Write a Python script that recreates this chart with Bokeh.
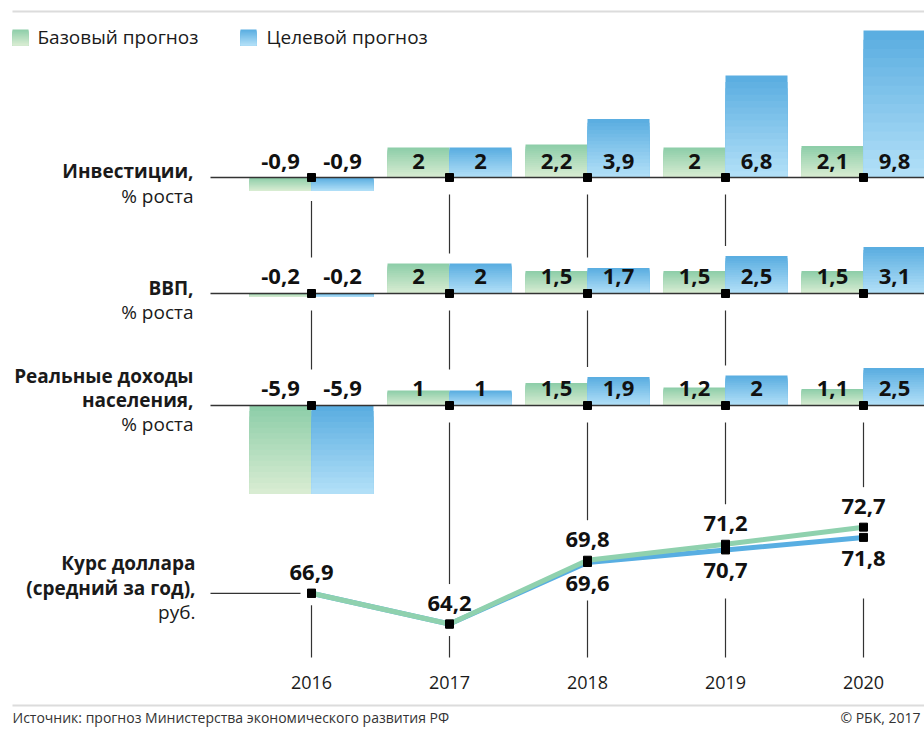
import numpy as np
from bokeh.plotting import figure
from bokeh.models import Range1d, ColumnDataSource
from bokeh.core.properties import value
from bokeh.embed import file_html
from bokeh.resources import INLINE

# ---------------- data ----------------
years = [2016, 2017, 2018, 2019, 2020]
year_labels = ["2016", "2017", "2018", "2019", "2020"]
series_names = ["Базовый прогноз", "Целевой прогноз"]

inv_base = [-0.9, 2, 2.2, 2, 2.1]
inv_target = [-0.9, 2, 3.9, 6.8, 9.8]
gdp_base = [-0.2, 2, 1.5, 1.5, 1.5]
gdp_target = [-0.2, 2, 1.7, 2.5, 3.1]
inc_base = [-5.9, 1, 1.5, 1.2, 1.1]
inc_target = [-5.9, 1, 1.9, 2, 2.5]
usd_base = [66.9, 64.2, 69.8, 71.2, 72.7]
usd_target = [66.9, 64.2, 69.6, 70.7, 71.8]

inv_title = ["Инвестиции,", "% роста"]
gdp_title = ["ВВП,", "% роста"]
inc_title = ["Реальные доходы", "населения,", "% роста"]
usd_title = ["Курс доллара", "(средний за год),", "руб."]
source_text = "Источник: прогноз Министерства экономического развития РФ"
credit_text = "© РБК, 2017"

# ---------------- layout / style ----------------
W, H = 924, 729
X0_PX, STEP_PX = 311, 138
BAR_PX = 62
PCT_PX = 15.0          # pixels per percentage point
USD_PX = 11.4          # pixels per rouble
USD_REF_V, USD_REF_PX = 69.6, 562.0
FONT = "Open Sans"
TXT = "#1a1a1a"
LINE = "#333333"
G_TOP, G_BOT = (140, 205, 168), (218, 237, 211)
B_TOP, B_BOT = (88, 172, 224), (180, 225, 248)
G_LINE, B_LINE = "#8fd1ae", "#58aee2"
NUM_SIZE = "22px"
TITLE_SIZE = "19px"


def px2x(px):
    return years[0] + (px - X0_PX) / STEP_PX


def mix(c0, c1, t):
    return "#%02x%02x%02x" % tuple(int(round(a + (b - a) * t)) for a, b in zip(c0, c1))


def fmt(v):
    return ("%g" % v).replace(".", ",")


BAR_W = BAR_PX / STEP_PX

p = figure(width=W, height=H, output_backend="svg", toolbar_location=None,
           x_range=Range1d(px2x(0), px2x(W)), y_range=Range1d(H, 0),
           x_axis_location=None, y_axis_location=None,
           min_border=0, min_border_left=0, min_border_right=0,
           min_border_top=0, min_border_bottom=0)
p.outline_line_color = None
p.grid.visible = False
p.background_fill_color = "white"
p.border_fill_color = "white"

rows = [
    ("inv", 177, inv_base, inv_target, inv_title, [170, 195], -16),
    ("gdp", 293, gdp_base, gdp_target, gdp_title, [287, 311], -17),
    ("inc", 405, inc_base, inc_target, inc_title, [375, 399, 423], -17),
]

for name, b, *_ in rows:
    p.extra_y_ranges[name] = Range1d(start=(b - H) / PCT_PX, end=b / PCT_PX)
p.extra_y_ranges["usd"] = Range1d(start=USD_REF_V - (H - USD_REF_PX) / USD_PX,
                                  end=USD_REF_V + USD_REF_PX / USD_PX)


def usd_px(v):
    return USD_REF_PX - (v - USD_REF_V) * USD_PX


# frame lines top & bottom
p.segment(x0=[px2x(12), px2x(12)], y0=[11, 705], x1=[px2x(W), px2x(W)], y1=[11, 705],
          line_color="#dcdcdc", line_width=2)

# legend
N = 16
for lx, tx, c0, c1, label in [(12, 37, G_TOP, G_BOT, series_names[0]),
                              (240, 266, B_TOP, B_BOT, series_names[1])]:
    top, bot = 29, 45
    L, R, T, B, C = [], [], [], [], []
    for k in range(N):
        L.append(px2x(lx)); R.append(px2x(lx + 16))
        T.append(top + (bot - top) * k / N); B.append(bot)
        C.append(mix(c0, c1, (k + 0.5) / N))
    p.quad(left=L, right=R, top=T, bottom=B, fill_color=C, line_color=None)
    p.text(x=[px2x(tx)], y=[36], text=[label], text_font=value(FONT),
           text_font_size="19px", text_color=TXT, text_baseline="middle", text_align="left")

# bars
for name, b, base, target, title, title_ys, lab_off in rows:
    L, R, T, B, C = [], [], [], [], []
    for s, (vals, c0, c1) in enumerate([(base, G_TOP, G_BOT), (target, B_TOP, B_BOT)]):
        for yr, v in zip(years, vals):
            left = yr - BAR_W if s == 0 else yr
            right = left + BAR_W
            top, bot = max(v, 0), min(v, 0)
            for k in range(N):
                L.append(left); R.append(right)
                T.append(top - (top - bot) * k / N); B.append(bot)
                C.append(mix(c0, c1, (k + 0.5) / N))
    p.quad(left=L, right=R, top=T, bottom=B, fill_color=C, line_color=None,
           y_range_name=name)
    # baseline
    p.segment(x0=[px2x(210)], y0=[0], x1=[px2x(W)], y1=[0], line_color=LINE,
              line_width=1.5, y_range_name=name)
    # value labels
    lx = [yr - BAR_W / 2 for yr in years] + [yr + BAR_W / 2 for yr in years]
    lt = [fmt(v) for v in base] + [fmt(v) for v in target]
    p.text(x=lx, y=[0] * len(lx), text=lt, y_offset=lab_off, text_font=value(FONT),
           text_font_size=NUM_SIZE, text_font_style="bold", text_color="#111111",
           text_align="center", text_baseline="middle", y_range_name=name)
    # markers
    p.scatter(x=years, y=[0] * len(years), marker="square", size=8, color="black",
              y_range_name=name)
    # titles
    for i, (t, ty) in enumerate(zip(title, title_ys)):
        p.text(x=[px2x(193)], y=[ty], text=[t], text_font=value(FONT),
               text_font_size=TITLE_SIZE, text_color=TXT, text_align="right",
               text_baseline="middle",
               text_font_style="bold" if i < len(title) - 1 else "normal")

# connectors between rows
X0s, Y0s, X1s, Y1s = [], [], [], []
for r in range(len(rows)):
    _, b, base, target, *_ = rows[r]
    for i, yr in enumerate(years):
        lo = min(base[i], target[i], 0)
        start = max(b + 17, b - lo * PCT_PX + 10)
        if r + 1 < len(rows):
            _, b2, base2, target2, *_ = rows[r + 1]
            hi = max(base2[i], target2[i], 0)
            end = min(b2 - hi * PCT_PX, b2 - 26) - 10
        else:
            end = usd_px(usd_base[i]) - 40
        if end - start > 50:
            X0s.append(yr); X1s.append(yr); Y0s.append(start); Y1s.append(end)
# below the line chart
for i, yr in enumerate(years):
    labeled = usd_base[i] != usd_target[i]
    lowpx = max(usd_px(usd_base[i]), usd_px(usd_target[i]))
    start = max(lowpx + (38 if labeled else 12), 598)
    X0s.append(yr); X1s.append(yr); Y0s.append(start); Y1s.append(657)
p.segment(x0=X0s, y0=Y0s, x1=X1s, y1=Y1s, line_color=LINE, line_width=1.2)

# usd lines
p.segment(x0=[px2x(210)], y0=[usd_base[0]], x1=[px2x(300)], y1=[usd_base[0]],
          line_color=LINE, line_width=1.2, y_range_name="usd")
p.line(years, usd_target, line_color=B_LINE, line_width=5, y_range_name="usd")
p.line(years, usd_base, line_color=G_LINE, line_width=5, y_range_name="usd")
p.scatter(x=years + years, y=usd_base + usd_target, marker="square", size=8,
          color="black", y_range_name="usd")
p.text(x=years, y=usd_base, text=[fmt(v) for v in usd_base], y_offset=-21,
       text_font=value(FONT), text_font_size=NUM_SIZE, text_font_style="bold",
       text_color="#111111", text_align="center", text_baseline="middle",
       y_range_name="usd")
tx = [yr for yr, a, b in zip(years, usd_base, usd_target) if a != b]
ty = [b for a, b in zip(usd_base, usd_target) if a != b]
p.text(x=tx, y=ty, text=[fmt(v) for v in ty], y_offset=21,
       text_font=value(FONT), text_font_size=NUM_SIZE, text_font_style="bold",
       text_color="#111111", text_align="center", text_baseline="middle",
       y_range_name="usd")
for i, (t, typ) in enumerate(zip(usd_title, [562, 587, 611])):
    p.text(x=[px2x(195)], y=[typ], text=[t], text_font=value(FONT),
           text_font_size=TITLE_SIZE, text_color=TXT, text_align="right",
           text_baseline="middle",
           text_font_style="bold" if i < len(usd_title) - 1 else "normal")

# year labels
p.text(x=years, y=[682] * len(years), text=year_labels, text_font=value(FONT),
       text_font_size="18px", text_color=TXT, text_align="center", text_baseline="middle")

# footer
p.text(x=[px2x(12)], y=[717], text=[source_text], text_font=value(FONT),
       text_font_size="14px", text_color="#333333", text_align="left",
       text_baseline="middle")
p.text(x=[px2x(920)], y=[717], text=[credit_text], text_font=value(FONT),
       text_font_size="14px", text_color="#333333", text_align="right",
       text_baseline="middle")

open("out.html", "w").write(file_html(p, INLINE))
